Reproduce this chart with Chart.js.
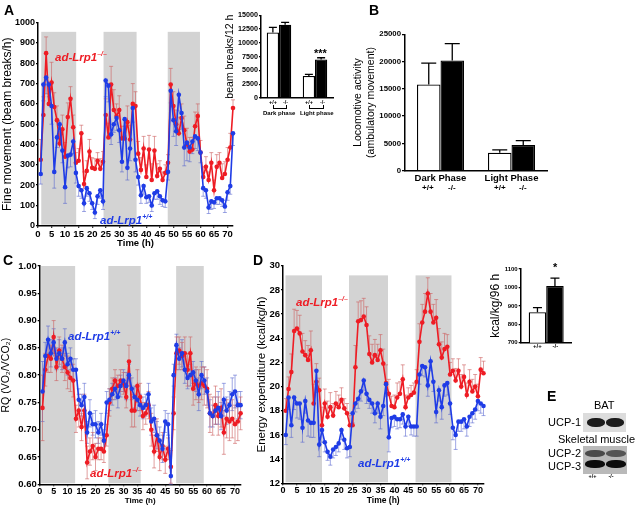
<!DOCTYPE html>
<html>
<head>
<meta charset="utf-8">
<script src="https://cdn.jsdelivr.net/npm/chart.js@4/dist/chart.umd.min.js"></script>
<style>
body{margin:0;background:#fff;width:635px;height:511px;position:relative;overflow:hidden;font-family:"Liberation Sans",Arial,sans-serif;color:#000}
canvas{position:absolute}
.t{position:absolute;white-space:nowrap;line-height:1}
.b{font-weight:bold}
.lab{position:absolute;white-space:nowrap;line-height:1;font-weight:bold;font-style:italic;font-size:11.5px}
.lab sup{font-size:7px;vertical-align:5px;font-style:italic}
.red{color:#ee1c24}
.blue{color:#1f3ce6}
.br{position:absolute;border:1px solid #000;border-top:none;height:3px}
.band{position:absolute;border-radius:45%;filter:blur(0.7px)}
</style>
</head>
<body>
<canvas id="chA" width="240" height="250" style="left:0;top:0"></canvas>
<canvas id="chAin" width="115" height="125" style="left:222px;top:0"></canvas>
<canvas id="chB" width="210" height="200" style="left:350px;top:0"></canvas>
<canvas id="chC" width="245" height="261" style="left:0;top:250px"></canvas>
<canvas id="chD" width="235" height="261" style="left:255px;top:250px"></canvas>
<canvas id="chDin" width="88" height="110" style="left:488px;top:250px"></canvas>

<div class="t b" style="left:4px;top:3px;font-size:14px">A</div>
<div class="t b" style="left:369px;top:3px;font-size:14px">B</div>
<div class="t b" style="left:3px;top:253px;font-size:14px">C</div>
<div class="t b" style="left:253px;top:253px;font-size:14px">D</div>
<div class="t b" style="left:547px;top:389px;font-size:14px">E</div>

<div class="lab red" style="left:55px;top:50px">ad-Lrp1<sup>–/–</sup></div>
<div class="lab blue" style="left:100px;top:213px">ad-Lrp1<sup>+/+</sup></div>
<div class="lab blue" style="left:68px;top:329px">ad-Lrp1<sup>+/+</sup></div>
<div class="lab red" style="left:90px;top:466px">ad-Lrp1<sup>–/–</sup></div>
<div class="lab red" style="left:296px;top:295px">ad-Lrp1<sup>–/–</sup></div>
<div class="lab blue" style="left:358px;top:456px">ad-Lrp1<sup>+/+</sup></div>

<!-- inset A labels -->
<div class="t b" style="left:269px;top:100px;font-size:5.5px">+/+</div>
<div class="t b" style="left:283px;top:100px;font-size:5.5px">-/-</div>
<div class="br" style="left:273px;top:105px;width:12px"></div>
<div class="t b" style="left:263px;top:110px;font-size:6px">Dark phase</div>
<div class="t b" style="left:305px;top:100px;font-size:5.5px">+/+</div>
<div class="t b" style="left:320px;top:100px;font-size:5.5px">-/-</div>
<div class="br" style="left:309px;top:105px;width:13px"></div>
<div class="t b" style="left:300px;top:110px;font-size:6px">Light phase</div>
<div class="t b" style="left:314px;top:48px;font-size:11px">***</div>

<!-- B genotype labels -->
<div class="t b" style="left:422px;top:184px;font-size:8px">+/+</div>
<div class="t b" style="left:448px;top:184px;font-size:8px">-/-</div>
<div class="t b" style="left:494px;top:184px;font-size:8px">+/+</div>
<div class="t b" style="left:519px;top:184px;font-size:8px">-/-</div>

<!-- D inset labels -->
<div class="t b" style="left:533px;top:343px;font-size:6px">+/+</div>
<div class="t b" style="left:552.5px;top:343px;font-size:6px">-/-</div>
<div class="t b" style="left:553px;top:262px;font-size:11px">*</div>

<!-- E blot -->
<div class="t" style="left:594px;top:400px;font-size:11px">BAT</div>
<div class="t" style="left:548px;top:416.5px;font-size:11px">UCP-1</div>
<div style="position:absolute;left:583px;top:413px;width:43px;height:19px;background:#dcdcdc"></div>
<div class="band" style="left:587px;top:418px;width:18px;height:9px;background:#1c1c1c"></div>
<div class="band" style="left:606px;top:418px;width:18px;height:9px;background:#1c1c1c"></div>
<div class="t" style="left:558px;top:434px;font-size:11px">Skeletal muscle</div>
<div class="t" style="left:548px;top:447.5px;font-size:11px">UCP-2</div>
<div class="t" style="left:548px;top:460.5px;font-size:11px">UCP-3</div>
<div style="position:absolute;left:583px;top:446px;width:44px;height:28px;background:#b9b9b9"></div>
<div class="band" style="left:585px;top:450px;width:20px;height:7px;background:#4a4a4a"></div>
<div class="band" style="left:606px;top:450px;width:20px;height:7px;background:#555"></div>
<div class="band" style="left:585px;top:460px;width:20px;height:8px;background:#0c0c0c"></div>
<div class="band" style="left:606px;top:460px;width:20px;height:8px;background:#0c0c0c"></div>
<div class="t b" style="left:588.5px;top:473.5px;font-size:5.5px">+/+</div>
<div class="t b" style="left:608.5px;top:473.5px;font-size:5.5px">-/-</div>

<script>
const F = '"Liberation Sans", Arial, sans-serif';
const RED = '#ee1c24', BLUE = '#1f3ce6';
const RED_ERR = 'rgba(205,95,95,0.6)', BLUE_ERR = 'rgba(80,95,205,0.55)';

// hourly time points, 1..72 h
const hours = Array.from({length: 72}, (_, i) => i + 1);

// A: fine movement (beam breaks/h)
const fineKO = [325,545,850,600,705,585,520,405,475,340,535,625,
  485,310,320,455,205,270,365,285,280,320,280,315,
  545,435,695,570,540,570,430,430,510,425,600,590,
  355,275,380,240,375,225,370,245,280,225,260,310,
  695,590,500,455,530,470,400,365,375,490,540,360,
  240,290,225,310,175,290,310,235,255,325,385,580];
const fineKOErr = [100,90,80,90,100,70,70,60,70,70,70,60,
  60,50,60,40,60,50,60,50,50,40,50,50,
  80,70,90,100,60,70,60,60,80,70,100,70,
  60,60,60,60,70,80,70,60,40,40,40,40,
  80,70,70,80,70,70,80,70,60,70,60,60,
  50,50,40,50,50,60,50,70,60,60,70,40];
const fineWT = [255,695,730,695,590,265,435,500,370,190,345,350,
  415,260,195,175,110,185,160,110,65,145,175,120,
  715,690,450,500,530,470,315,525,285,380,580,325,
  240,150,195,140,145,100,160,170,145,125,120,265,
  665,520,465,645,555,385,410,385,415,440,430,360,
  185,175,90,120,115,135,135,125,95,165,195,455];
const fineWTErr = [50,80,80,60,90,80,50,60,60,80,60,60,
  60,50,50,40,40,40,40,30,30,40,40,40,
  80,80,50,40,60,60,50,80,60,60,70,60,
  40,40,40,30,30,30,30,40,40,30,30,40,
  60,80,70,80,80,90,90,70,60,60,60,50,
  40,40,30,40,30,30,30,30,30,40,40,60];
const darkA = [[1.2, 14.1], [24.2, 36.4], [47.9, 59.8]];

// A inset: beam breaks / 12 h
const phaseGroups = ['Dark phase', 'Light phase'];
const breaksWT = [11900, 4000];
const breaksWTErr = [900, 300];
const breaksKO = [13300, 7000];
const breaksKOErr = [400, 300];

// B: locomotive activity
const phaseGroupsB = ['Dark Phase', 'Light Phase'];
const locoWT = [15800, 3300];
const locoWTErr = [3900, 500];
const locoKO = [20200, 4700];
const locoKOErr = [3100, 800];

// C: RQ
const rqWT = [0.770,0.835,0.865,0.840,0.860,0.830,0.840,0.830,0.860,0.820,0.830,0.810,
  0.810,0.755,0.745,0.760,0.695,0.730,0.710,0.710,0.695,0.710,0.680,0.750,
  0.755,0.765,0.775,0.760,0.780,0.790,0.780,0.800,0.775,0.760,0.755,0.745,
  0.740,0.745,0.765,0.715,0.720,0.690,0.680,0.665,0.715,0.710,0.615,0.800,
  0.855,0.830,0.840,0.810,0.795,0.800,0.805,0.790,0.765,0.800,0.790,0.770,
  0.730,0.725,0.735,0.740,0.725,0.755,0.735,0.745,0.765,0.770,0.745,0.745];
const rqWTErr = [0.055,0.025,0.025,0.025,0.025,0.020,0.025,0.020,0.025,0.020,0.020,0.020,
  0.020,0.020,0.020,0.025,0.020,0.025,0.020,0.025,0.020,0.020,0.020,0.020,
  0.020,0.020,0.020,0.020,0.020,0.020,0.025,0.020,0.020,0.020,0.020,0.020,
  0.020,0.020,0.020,0.025,0.025,0.025,0.025,0.025,0.020,0.020,0.015,0.020,
  0.020,0.020,0.025,0.025,0.020,0.020,0.020,0.020,0.030,0.025,0.025,0.025,
  0.025,0.020,0.025,0.030,0.025,0.030,0.025,0.025,0.030,0.030,0.025,0.025];
const rqKO = [0.740,0.810,0.835,0.830,0.870,0.815,0.845,0.830,0.815,0.805,0.795,0.790,
  0.720,0.735,0.705,0.735,0.640,0.660,0.670,0.650,0.665,0.665,0.660,0.690,
  0.750,0.775,0.790,0.780,0.790,0.785,0.760,0.825,0.735,0.735,0.780,0.760,
  0.725,0.730,0.745,0.700,0.660,0.690,0.650,0.670,0.645,0.665,0.632,0.730,
  0.840,0.845,0.835,0.840,0.810,0.840,0.775,0.785,0.780,0.785,0.780,0.775,
  0.730,0.725,0.745,0.725,0.740,0.695,0.720,0.715,0.720,0.710,0.715,0.730];
const rqKOErr = [0.060,0.030,0.030,0.025,0.030,0.025,0.025,0.025,0.025,0.030,0.025,0.030,
  0.025,0.030,0.025,0.030,0.030,0.025,0.025,0.025,0.020,0.020,0.020,0.020,
  0.025,0.020,0.020,0.020,0.020,0.020,0.020,0.030,0.030,0.030,0.030,0.025,
  0.025,0.020,0.025,0.030,0.030,0.030,0.025,0.025,0.025,0.020,0.030,0.030,
  0.030,0.025,0.025,0.030,0.030,0.030,0.030,0.030,0.030,0.030,0.035,0.035,
  0.035,0.035,0.035,0.035,0.035,0.040,0.035,0.035,0.035,0.035,0.035,0.030];
const darkC = [[0.5, 12.7], [24.6, 36.2], [48.9, 58.8]];

// D: energy expenditure (kcal/kg/h)
const eeKO = [18.0,19.8,21.2,24.6,24.8,24.4,22.9,22.6,22.2,23.0,18.6,20.4,
  19.7,16.8,18.6,17.5,18.3,17.6,18.6,18.3,18.9,18.2,17.8,16.8,
  16.8,21.6,25.4,25.5,25.8,25.1,22.7,22.0,22.6,22.2,23.0,21.9,
  20.3,19.4,18.4,18.3,19.1,19.4,20.6,18.3,19.1,19.3,19.5,20.4,
  23.7,25.3,26.2,27.7,26.2,25.3,25.7,23.5,22.4,23.1,23.3,21.0,
  21.3,20.5,21.3,20.0,20.8,19.3,20.4,19.6,20.0,19.2,21.4,21.1];
const eeKOErr = [1.0,1.0,1.5,1.8,1.5,1.5,1.5,1.2,1.2,1.6,1.6,1.5,
  1.0,1.5,1.2,1.3,1.2,1.0,1.0,1.0,1.0,0.8,0.8,0.8,
  1.0,1.8,1.6,1.6,1.5,1.5,1.5,1.5,1.3,1.3,1.3,1.2,
  1.5,1.2,0.8,1.0,1.2,1.0,1.2,1.0,0.8,0.8,0.8,1.0,
  1.5,1.5,1.5,1.3,1.5,1.5,1.5,1.3,1.3,1.3,1.0,1.0,
  1.0,1.0,1.0,1.0,1.0,1.0,1.0,1.0,1.0,1.0,1.0,1.0];
const eeWT = [16.0,19.1,16.8,19.1,18.6,18.6,16.6,18.8,17.2,17.0,17.0,21.3,
  15.2,16.4,15.4,14.6,14.2,14.8,15.0,15.3,16.4,15.6,14.9,15.0,
  17.8,18.6,19.0,19.6,20.5,19.4,18.9,18.6,17.8,18.6,17.5,18.4,
  20.2,15.8,17.4,17.5,17.3,17.3,17.7,16.7,17.5,16.7,16.7,16.7,
  21.0,21.7,21.6,20.1,22.1,20.4,17.9,19.7,18.3,20.1,20.3,18.6,
  16.6,16.0,17.1,17.1,17.3,16.7,17.5,17.8,18.1,18.8,18.6,18.4];
const eeWTErr = [0.8,1.0,1.0,1.0,1.2,1.3,1.2,1.0,1.3,1.2,1.2,1.8,
  1.0,1.0,0.8,0.7,0.7,0.7,0.7,0.7,0.8,0.8,0.8,0.8,
  0.8,0.7,0.8,0.8,0.8,0.8,0.7,0.8,0.8,0.8,1.0,0.8,
  1.0,1.2,0.8,0.8,0.8,0.7,0.8,0.8,0.8,0.7,0.8,0.8,
  0.8,0.8,0.8,0.9,0.8,0.8,0.9,0.9,1.0,0.9,1.0,0.9,
  1.0,1.2,0.8,0.8,0.8,0.8,0.8,0.8,0.8,0.8,0.8,0.8];
const darkD = [[0.9, 14.0], [23.7, 37.7], [47.6, 60.5]];

// D inset: kcal/kg/96 h
const kcalWT = [865], kcalWTErr = [25];
const kcalKO = [1008], kcalKOErr = [42];

function phasePlugin(ranges, top) {
	return {
		id: 'phases',
		beforeDatasetsDraw(chart) {
			const {ctx, scales: {x, y}} = chart;
			const yTop = y.getPixelForValue(top);
			const yBot = y.getPixelForValue(y.min) - 1;
			ctx.save();
			ctx.fillStyle = '#d3d3d3';
			for (let r of ranges) {
				let x0 = x.getPixelForValue(r[0]);
				let x1 = x.getPixelForValue(r[1]);
				ctx.fillRect(x0, yTop, x1 - x0, yBot - yTop);
			}
			ctx.restore();
		}
	};
}

function drawErrors(chart) {
	const ctx = chart.ctx;
	const y = chart.scales.y;
	chart.data.datasets.forEach(function(ds, di) {
		if (!ds.errors) return;
		let meta = chart.getDatasetMeta(di);
		ctx.save();
		ctx.strokeStyle = ds.errColor;
		ctx.lineWidth = ds.errWidth || 1;
		meta.data.forEach(function(el, i) {
			let raw = ds.data[i];
			let v = (raw !== null && typeof raw === 'object') ? raw.y : raw;
			let e = ds.errors[i];
			if (v == null || e == null) return;
			let lo = ds.errDir === 'up' ? v : v - e;
			let hi = ds.errDir === 'down' ? v : v + e;
			let y0 = y.getPixelForValue(lo), y1 = y.getPixelForValue(hi);
			let c = ds.capWidth / 2;
			ctx.beginPath();
			ctx.moveTo(el.x, y0);
			ctx.lineTo(el.x, y1);
			if (ds.errDir !== 'down') { ctx.moveTo(el.x - c, y1); ctx.lineTo(el.x + c, y1); }
			if (ds.errDir !== 'up') { ctx.moveTo(el.x - c, y0); ctx.lineTo(el.x + c, y0); }
			ctx.stroke();
		});
		ctx.restore();
	});
}

const errorBars = {
	id: 'errorBars',
	beforeDatasetsDraw(chart) { if (chart.config.type === 'line') drawErrors(chart); },
	afterDatasetsDraw(chart) { if (chart.config.type === 'bar') drawErrors(chart); }
};

function yAxis(o) {
	return {
		min: o.min, max: o.max,
		afterFit: function(s) { s.width = o.width; },
		border: {color: '#000', width: 1.5},
		grid: {display: true, drawOnChartArea: false, color: '#000', lineWidth: 1.3, tickLength: o.tick || 2},
		ticks: {stepSize: o.step, color: '#000', padding: o.pad || 1, autoSkip: false,
			font: {family: F, size: o.tickSize, weight: 'bold'}, callback: o.fmt},
		title: {display: true, text: o.title, color: '#000', padding: {top: o.titlePad || 0, bottom: 0},
			font: {family: F, size: o.titleSize, lineHeight: o.lineHeight || 1.2}}
	};
}

function timeAxis(o) {
	return {
		type: 'linear', min: 0, max: 72,
		afterFit: function(s) { s.height = o.height; },
		border: {color: '#000', width: 1.5},
		grid: {display: true, drawOnChartArea: false, color: '#000', lineWidth: 1.3, tickLength: 2},
		ticks: {stepSize: 5, includeBounds: false, color: '#000', padding: o.pad, maxRotation: 0, autoSkip: false,
			font: {family: F, size: o.tickSize, weight: 'bold'}},
		title: {display: true, text: 'Time (h)', color: '#000', padding: {top: 0, bottom: o.titlePad},
			font: {family: F, size: o.titleSize, weight: 'bold'}}
	};
}

function series(values, errors, color, errColor, dir) {
	return {
		data: hours.map((h, i) => ({x: h, y: values[i]})),
		borderColor: color, backgroundColor: color, pointBackgroundColor: color,
		pointBorderWidth: 0, pointRadius: 2.3, borderWidth: 1.6, clip: false,
		errors: errors, errColor: errColor, errDir: dir, capWidth: 4
	};
}

function lineChart(id, datasets, padding, x, y, phases, phaseTop) {
	return new Chart(document.getElementById(id), {
		type: 'line',
		data: {datasets: datasets},
		options: {
			responsive: false, animation: false,
			layout: {padding: padding},
			plugins: {legend: {display: false}, tooltip: {enabled: false}},
			scales: {x: x, y: y}
		},
		plugins: [phasePlugin(phases, phaseTop), errorBars]
	});
}

function barChart(id, labels, wt, wtErr, ko, koErr, o) {
	return new Chart(document.getElementById(id), {
		type: 'bar',
		data: {
			labels: labels,
			datasets: [
				{data: wt, backgroundColor: '#fff', borderColor: '#000', borderWidth: 1.3,
					errors: wtErr, errDir: 'up', errColor: '#000', errWidth: 1.3, capWidth: o.cap},
				{data: ko, backgroundColor: '#000', borderColor: '#000', borderWidth: 1.3,
					errors: koErr, errDir: 'up', errColor: '#000', errWidth: 1.3, capWidth: o.cap}
			]
		},
		options: {
			responsive: false, animation: false,
			categoryPercentage: o.catPct, barPercentage: 1,
			layout: {padding: o.padding},
			plugins: {legend: {display: false}, tooltip: {enabled: false}},
			scales: {
				x: {
					afterFit: function(s) { s.height = o.xHeight; },
					border: {color: '#000', width: 1.5},
					grid: {display: false, drawTicks: false, tickLength: 0},
					ticks: {display: o.xLabels, color: '#000', padding: 2, maxRotation: 0,
						font: {family: F, size: 9.5, weight: 'bold'}}
				},
				y: o.y
			}
		},
		plugins: [errorBars]
	});
}

const plain = v => String(v);

// A
lineChart('chA',
	[series(fineWT, fineWTErr, BLUE, BLUE_ERR, 'down'), series(fineKO, fineKOErr, RED, RED_ERR, 'up')],
	{top: 22.7, right: 7, left: 0, bottom: 0},
	timeAxis({height: 24.3, tickSize: 9.5, titleSize: 9.5, titlePad: 1, pad: 1}),
	yAxis({min: 0, max: 1000, step: 100, width: 38, tickSize: 9, fmt: plain,
		title: 'Fine movement (beam breaks/h)', titleSize: 12}),
	darkA, 955);

// A inset
barChart('chAin', phaseGroups, breaksWT, breaksWTErr, breaksKO, breaksKOErr, {
	cap: 8, catPct: 0.68, xHeight: 27, xLabels: false,
	padding: {top: 15.3, right: 4, left: 0, bottom: 0},
	y: yAxis({min: 0, max: 15000, step: 2500, width: 39, tickSize: 7.2, fmt: plain,
		title: 'beam breaks/12 h', titleSize: 10.5, titlePad: 1.4})
});

// B
barChart('chB', phaseGroupsB, locoWT, locoWTErr, locoKO, locoKOErr, {
	cap: 15, catPct: 0.662, xHeight: 29.3, xLabels: true,
	padding: {top: 34.3, right: 13, left: 0, bottom: 0},
	y: yAxis({min: 0, max: 25000, step: 5000, width: 55, tick: 3, tickSize: 7.8, fmt: plain,
		title: ['Locomotive activity', '(ambulatory movement)'], titleSize: 10.5, titlePad: 1.5, lineHeight: 1.24})
});

// C
lineChart('chC',
	[series(rqWT, rqWTErr, BLUE, BLUE_ERR, 'both'), series(rqKO, rqKOErr, RED, RED_ERR, 'both')],
	{top: 16, right: 4.4, left: 0, bottom: 0},
	timeAxis({height: 26.7, tickSize: 9, titleSize: 8, titlePad: 5, pad: 0}),
	yAxis({min: 0.6, max: 1.0, step: 0.05, width: 39.7, tickSize: 9.5, fmt: v => v.toFixed(2),
		title: 'RQ (VO\u2082/VCO\u2082)', titleSize: 10.5}),
	darkC, 1.0);

// D
lineChart('chD',
	[series(eeWT, eeWTErr, BLUE, BLUE_ERR, 'down'), series(eeKO, eeKOErr, RED, RED_ERR, 'up')],
	{top: 15.7, right: 6.5, left: 0, bottom: 0},
	timeAxis({height: 27.7, tickSize: 9, titleSize: 8.5, titlePad: 5, pad: 0}),
	yAxis({min: 12, max: 30, step: 2, width: 28, tickSize: 9.5, fmt: plain,
		title: 'Energy expenditure (kcal/kg/h)', titleSize: 11.5}),
	darkD, 29.2);

// D inset
barChart('chDin', [''], kcalWT, kcalWTErr, kcalKO, kcalKOErr, {
	cap: 9, catPct: 0.686, xHeight: 17.3, xLabels: false,
	padding: {top: 19, right: 4.3, left: 0, bottom: 0},
	y: yAxis({min: 700, max: 1100, step: 100, width: 32.7, tickSize: 6, fmt: plain,
		title: 'kcal/kg/96 h', titleSize: 12})
});
</script>
</body>
</html>
